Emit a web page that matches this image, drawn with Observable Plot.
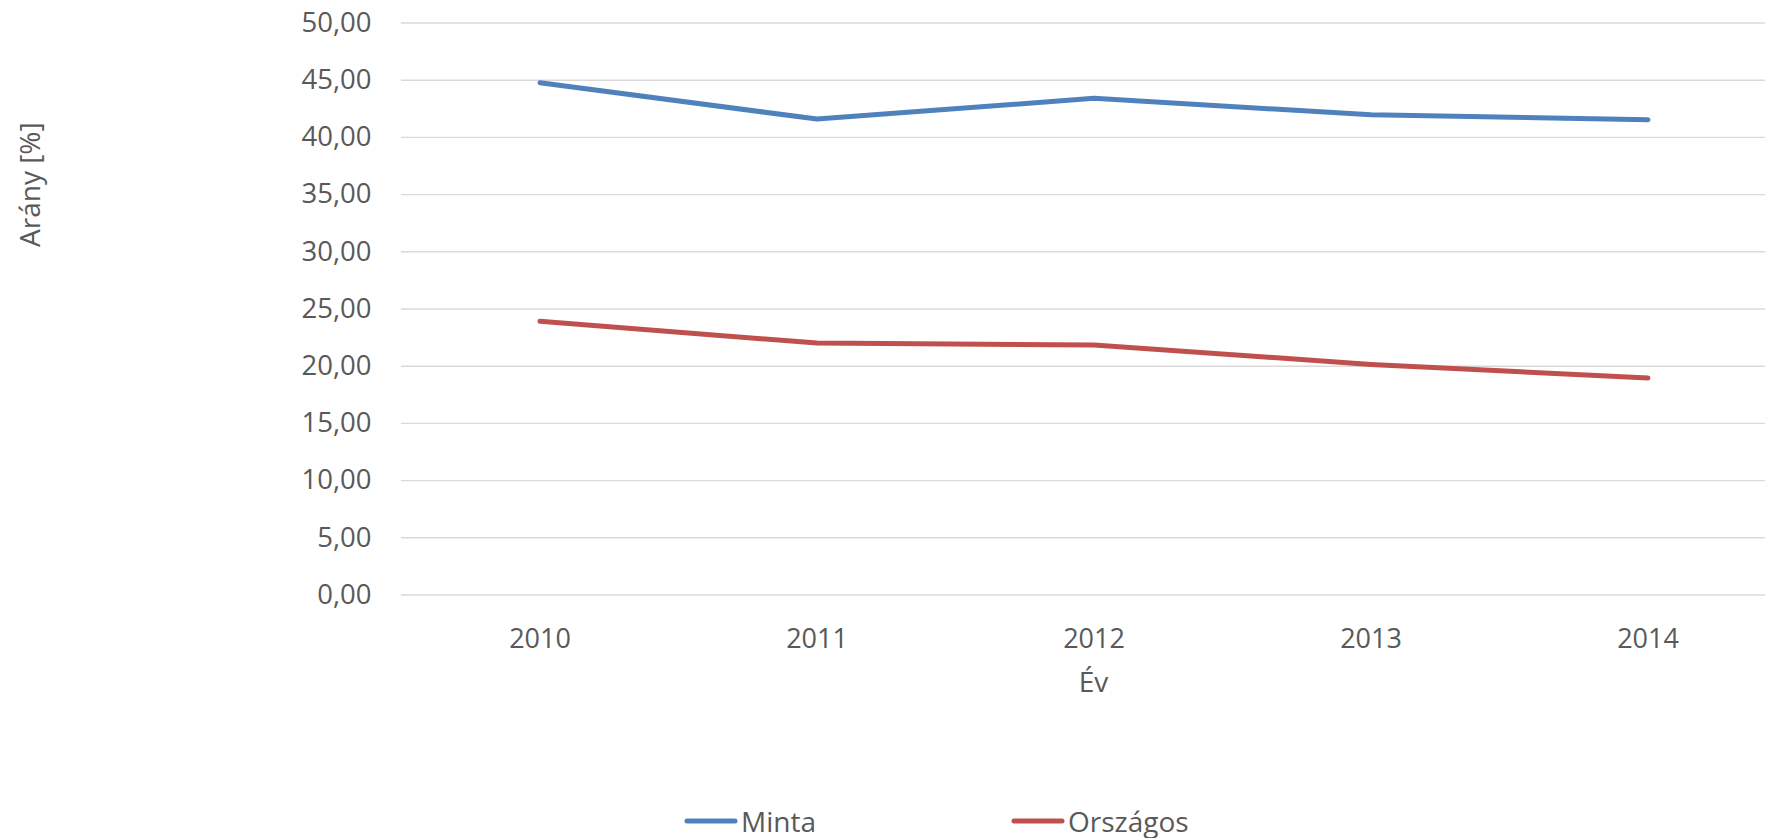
<!DOCTYPE html>
<html>
<head>
<meta charset="utf-8">
<script src="https://cdn.jsdelivr.net/npm/d3@7"></script>
<script src="https://cdn.jsdelivr.net/npm/@observablehq/plot@0.6"></script>
<style>
  html, body { margin: 0; padding: 0; background: #fff; }
  body { width: 1765px; height: 838px; position: relative; overflow: hidden; font-family: "Open Sans", sans-serif; }
  #chart { position: absolute; left: 0; top: 0; }
  #legend { position: absolute; left: 0; top: 803px; width: 1765px; height: 36px; color: #595959; font-size: 28px; }
  .item { position: absolute; top: 0; height: 36px; display: flex; align-items: center; }
  .item svg { margin-right: 3px; }
</style>
</head>
<body>
<div id="chart"></div>
<div id="legend"></div>
<script>
const years = [2010, 2011, 2012, 2013, 2014];
const seriesNames = ["Minta", "Országos"];
const minta = [44.78, 41.60, 43.42, 41.97, 41.54];
const orszagos = [23.93, 22.02, 21.86, 20.15, 18.97];
const yTicks = [0, 5, 10, 15, 20, 25, 30, 35, 40, 45, 50];
const colors = ["#4F81BD", "#C0504D"];
const xTitle = "Év";
const yTitle = "Arány [%]";

const rows = [];
years.forEach((yr, i) => {
  rows.push({year: yr, value: minta[i], series: seriesNames[0]});
  rows.push({year: yr, value: orszagos[i], series: seriesNames[1]});
});

const fmt = v => v.toFixed(2).replace(".", ",");
const textColor = "#595959";

const chart = Plot.plot({
  width: 1765,
  height: 700,
  marginLeft: 401,
  marginRight: 0,
  marginTop: 22.5,
  marginBottom: 105.5,
  style: {fontFamily: "'Open Sans', sans-serif", fontSize: "27px", color: textColor, background: "transparent"},
  x: {type: "linear", domain: [2009.5, 2014.5], range: [401, 1786], axis: null},
  y: {domain: [0, 50], axis: null},
  color: {domain: seriesNames, range: colors},
  marks: [
    Plot.ruleY(yTicks, {stroke: "#D9D9D9", strokeWidth: 1.4}),
    Plot.axisY(yTicks, {tickSize: 0, tickPadding: 30, tickFormat: fmt, fill: textColor, fontSize: 27.5, label: null}),
    Plot.axisX(years, {tickSize: 0, tickPadding: 34, tickFormat: d => String(d), fill: textColor, fontSize: 27, label: null}),
    Plot.line(rows, {x: "year", y: "value", z: "series", stroke: "series", strokeWidth: 5, strokeLinecap: "round", strokeLinejoin: "round"}),
    Plot.text([xTitle], {frameAnchor: "bottom", dy: 88.5, dx: 10, fill: textColor, fontSize: 28, lineAnchor: "middle"}),
    Plot.text([yTitle], {frameAnchor: "left", rotate: -90, dx: -370, dy: -62, fill: textColor, fontSize: 28, lineAnchor: "middle"})
  ]
});
document.getElementById("chart").appendChild(chart);

// Legend
const legend = document.getElementById("legend");
const legendPos = [684, 1011];
seriesNames.forEach((name, i) => {
  const item = document.createElement("div");
  item.className = "item";
  item.style.left = legendPos[i] + "px";
  item.innerHTML = `<svg width="54" height="10"><line x1="3" y1="5" x2="51" y2="5" stroke="${colors[i]}" stroke-width="5" stroke-linecap="round"/></svg><span>${name}</span>`;
  legend.appendChild(item);
});
</script>
</body>
</html>
